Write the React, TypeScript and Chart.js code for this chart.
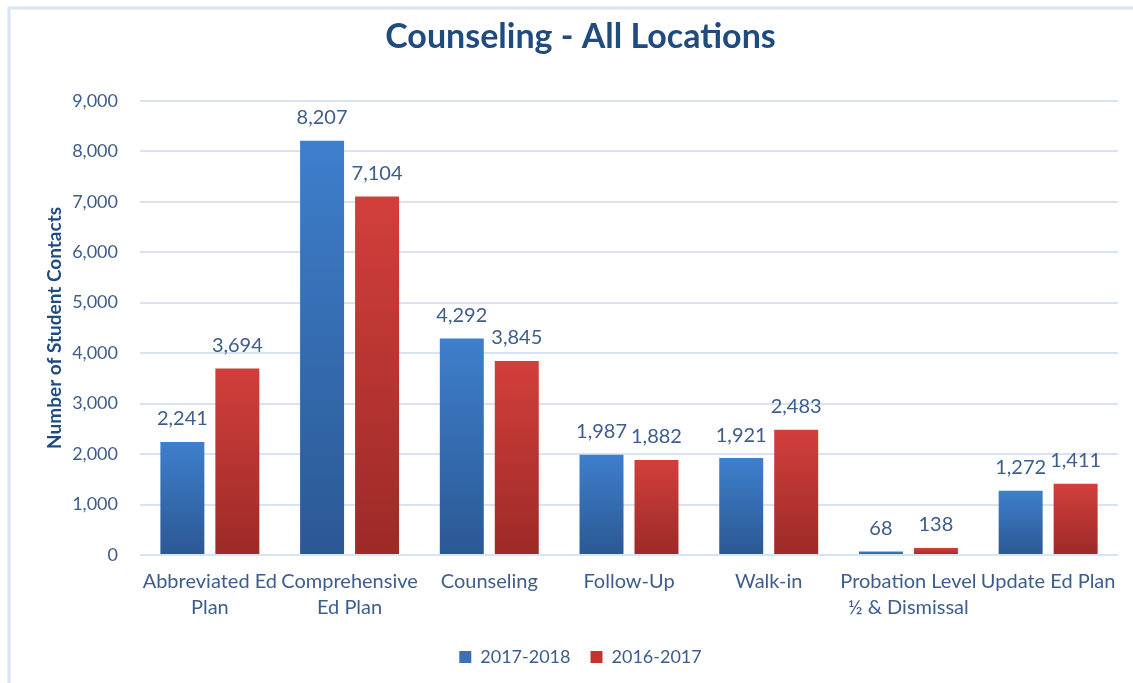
import React, { useEffect, useRef } from "react";
import { Chart, registerables } from "chart.js";

Chart.register(...registerables);

const chartTitle = "Counseling - All Locations";
const yAxisTitle = "Number of Student Contacts";
const categories: string[][] = [
  ["Abbreviated Ed", "Plan"],
  ["Comprehensive", "Ed Plan"],
  ["Counseling"],
  ["Follow-Up"],
  ["Walk-in"],
  ["Probation Level", "½ & Dismissal"],
  ["Update Ed Plan"],
];
const seriesNames = ["2017-2018", "2016-2017"];
const values2018 = [2241, 8207, 4292, 1987, 1921, 68, 1272];
const values2017 = [3694, 7104, 3845, 1882, 2483, 138, 1411];
const yMin = 0;
const yMax = 9000;
const yStep = 1000;

const FONT = "Lato, 'Open Sans', sans-serif";
const TEXT = "#3d5d8c";
const TITLE = "#1f4b7f";
const BLUE_TOP = "#3e7fcc";
const BLUE_BOT = "#2b5893";
const RED_TOP = "#d23f3b";
const RED_BOT = "#9c2a27";

function barGradient(top: string, bot: string) {
  return (ctx: any) => {
    const chart = ctx.chart;
    const ys = chart.scales?.y;
    if (!ys || ctx.type !== "data" || !chart.chartArea) return top;
    const v = ctx.raw as number;
    const yTop = ys.getPixelForValue(v);
    const yBase = ys.getPixelForValue(0);
    if (!isFinite(yTop) || !isFinite(yBase) || yBase - yTop < 1) return top;
    const g = chart.ctx.createLinearGradient(0, yTop, 0, yBase);
    g.addColorStop(0, top);
    g.addColorStop(1, bot);
    return g;
  };
}

const frameAndLabels = {
  id: "frameAndLabels",
  beforeDraw(chart: any) {
    const c = chart.ctx;
    c.save();
    c.fillStyle = "#ffffff";
    c.fillRect(0, 0, chart.width, chart.height);
    c.strokeStyle = "#d9e4f4";
    c.lineWidth = 3;
    c.beginPath();
    c.moveTo(9, chart.height);
    c.lineTo(9, 8);
    c.lineTo(chart.width, 8);
    c.stroke();
    c.restore();
  },
  afterDatasetsDraw(chart: any) {
    const c = chart.ctx;
    c.save();
    c.font = `20px ${FONT}`;
    c.fillStyle = TEXT;
    c.textAlign = "center";
    c.textBaseline = "bottom";
    chart.data.datasets.forEach((ds: any, di: number) => {
      const meta = chart.getDatasetMeta(di);
      meta.data.forEach((el: any, i: number) => {
        const v = ds.data[i] as number;
        c.fillText(v.toLocaleString("en-US"), el.x, el.y - 13);
      });
    });
    c.restore();
  },
};

export default function App() {
  const canvasRef = useRef<HTMLCanvasElement | null>(null);

  useEffect(() => {
    document.body.style.margin = "0";
    const canvas = canvasRef.current;
    if (!canvas) return;
    const chart = new Chart(canvas, {
      type: "bar",
      data: {
        labels: categories,
        datasets: [
          {
            label: seriesNames[0],
            data: values2018,
            backgroundColor: barGradient(BLUE_TOP, BLUE_BOT),
            categoryPercentage: 0.787,
            barPercentage: 0.8,
          },
          {
            label: seriesNames[1],
            data: values2017,
            backgroundColor: barGradient(RED_TOP, RED_BOT),
            categoryPercentage: 0.787,
            barPercentage: 0.8,
          },
        ],
      },
      options: {
        animation: false,
        responsive: false,
        maintainAspectRatio: false,
        layout: { padding: { left: 43, right: 15, top: 0, bottom: 7 } },
        plugins: {
          title: {
            display: true,
            text: chartTitle,
            color: TITLE,
            font: { family: FONT, size: 34, weight: "bold" },
            padding: { top: 17, bottom: 43 },
          },
          legend: {
            position: "bottom",
            labels: {
              color: TEXT,
              font: { family: FONT, size: 18 },
              boxWidth: 12,
              boxHeight: 12,
              padding: 20,
              generateLabels: () => [
                { text: seriesNames[0], fillStyle: "#3a70b8", strokeStyle: "#3a70b8", lineWidth: 0, datasetIndex: 0, fontColor: TEXT },
                { text: seriesNames[1], fillStyle: "#c4342f", strokeStyle: "#c4342f", lineWidth: 0, datasetIndex: 1, fontColor: TEXT },
              ],
            },
          },
          tooltip: { enabled: false },
        },
        scales: {
          x: {
            grid: { display: false },
            border: { display: false },
            ticks: {
              color: TEXT,
              font: { family: FONT, size: 20, lineHeight: 1.3 },
              maxRotation: 0,
              autoSkip: false,
              padding: 6,
            },
            afterFit: (s: any) => {
              s.height = 73;
            },
          },
          y: {
            min: yMin,
            max: yMax,
            grid: { color: "#d8e4f3", lineWidth: 2, drawTicks: false },
            border: { display: false },
            ticks: {
              stepSize: yStep,
              color: TEXT,
              font: { family: FONT, size: 18 },
              padding: 22,
              callback: (v: any) => Number(v).toLocaleString("en-US"),
            },
            title: {
              display: true,
              text: yAxisTitle,
              color: TITLE,
              font: { family: FONT, size: 19, weight: "bold" },
              padding: 0,
            },
            afterFit: (s: any) => {
              s.width = 97;
            },
          },
        },
      },
      plugins: [frameAndLabels],
    });
    return () => chart.destroy();
  }, []);

  return (
    <div style={{ width: 1133, height: 683 }}>
      <canvas ref={canvasRef} width={1133} height={683} style={{ display: "block" }} />
    </div>
  );
}
